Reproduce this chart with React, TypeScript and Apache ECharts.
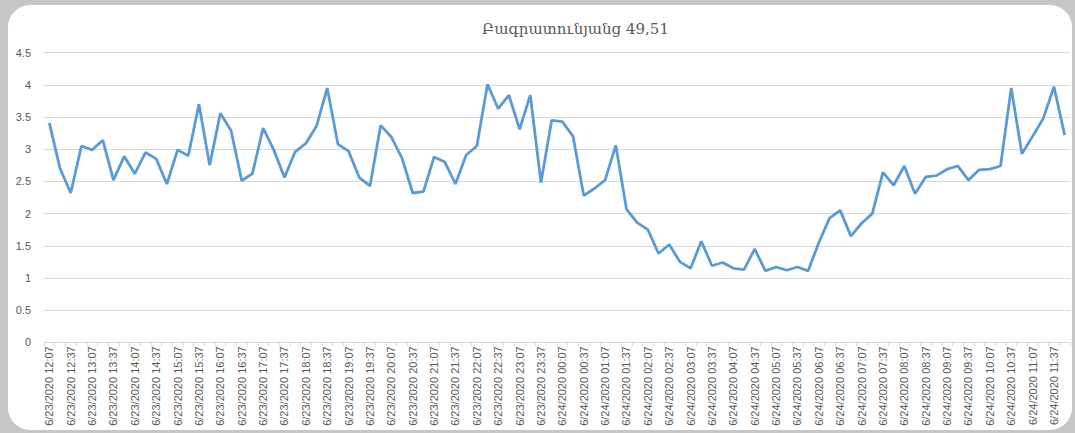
import React, { useEffect, useRef } from "react";
import * as echarts from "echarts";

const TITLE = "Բագրատունյանց 49,51";

// 15-minute readings, 6/23/2020 12:07 → 6/24/2020 11:52
const startDay = 23;
const startHour = 12;
const startMinute = 7;
const stepMinutes = 15;

const values: number[] = [
  3.41, 2.7, 2.32, 3.05, 2.99, 3.14, 2.52, 2.89, 2.62, 2.95, 2.85, 2.46, 2.99, 2.9, 3.7, 2.75,
  3.56, 3.29, 2.51, 2.62, 3.33, 2.99, 2.56, 2.96, 3.09, 3.36, 3.95, 3.08, 2.97, 2.56, 2.43, 3.37,
  3.19, 2.86, 2.32, 2.34, 2.88, 2.8, 2.46, 2.91, 3.05, 4.01, 3.63, 3.84, 3.31, 3.84, 2.48, 3.45,
  3.43, 3.2, 2.28, 2.39, 2.52, 3.06, 2.07, 1.86, 1.75, 1.38, 1.52, 1.25, 1.15, 1.57, 1.19, 1.24,
  1.15, 1.13, 1.45, 1.11, 1.17, 1.12, 1.17, 1.11, 1.55, 1.93, 2.05, 1.65, 1.85, 2.0, 2.64, 2.44,
  2.74, 2.31, 2.57, 2.59, 2.69, 2.74, 2.52, 2.68, 2.69, 2.74, 3.95, 2.93, 3.2, 3.48, 3.97, 3.22,
];

const pad = (n: number) => (n < 10 ? "0" + n : "" + n);
const categories: string[] = values.map((_, i) => {
  const total = startHour * 60 + startMinute + i * stepMinutes;
  const day = startDay + Math.floor(total / 1440);
  const m = total % 1440;
  return `6/${day}/2020 ${pad(Math.floor(m / 60))}:${pad(m % 60)}`;
});

const yTicks = { min: 0, max: 4.5, interval: 0.5 };

export default function App() {
  const ref = useRef<HTMLDivElement>(null);
  useEffect(() => {
    document.body.style.margin = "0";
    if (!ref.current) return;
    const chart = echarts.init(ref.current, null, { renderer: "svg" });
    chart.setOption({
      animation: false,
      title: {
        text: TITLE,
        left: 477,
        top: 16,
        textStyle: {
          fontFamily: "DejaVu Serif",
          fontSize: 15,
          fontWeight: "normal",
          color: "#595959",
        },
      },
      grid: { left: 44, right: 5, top: 52.7, bottom: 90.7, containLabel: false },
      xAxis: {
        type: "category",
        data: categories,
        boundaryGap: true,
        axisLine: { lineStyle: { color: "#d9d9d9", width: 1 } },
        axisTick: { show: true, interval: 0, length: 4, lineStyle: { color: "#d9d9d9" } },
        axisLabel: {
          interval: 1,
          rotate: 90,
          margin: 4,
          fontSize: 11,
          fontFamily: "Liberation Sans",
          color: "#595959",
        },
      },
      yAxis: {
        type: "value",
        min: yTicks.min,
        max: yTicks.max,
        interval: yTicks.interval,
        axisLine: { show: false },
        axisTick: { show: false },
        axisLabel: { fontSize: 11, fontFamily: "Liberation Sans", color: "#595959", margin: 13 },
        splitLine: { lineStyle: { color: "#d9d9d9", width: 1 } },
      },
      series: [
        {
          type: "line",
          data: values,
          symbol: "none",
          lineStyle: { color: "#5b9bd5", width: 2.8 },
          itemStyle: { color: "#5b9bd5" },
        },
      ],
    });
    return () => chart.dispose();
  }, []);
  return (
    <div
      style={{
        position: "fixed",
        left: 0,
        top: 0,
        width: 1075,
        height: 433,
        background: "#c6c6c6",
        overflow: "hidden",
      }}
    >
      <div
        style={{
          position: "absolute",
          left: 8,
          top: 5,
          width: 1064,
          height: 425,
          background: "#ffffff",
          borderRadius: 22,
        }}
      />
      <div ref={ref} style={{ position: "absolute", left: 0, top: 0, width: 1075, height: 433 }} />
    </div>
  );
}
